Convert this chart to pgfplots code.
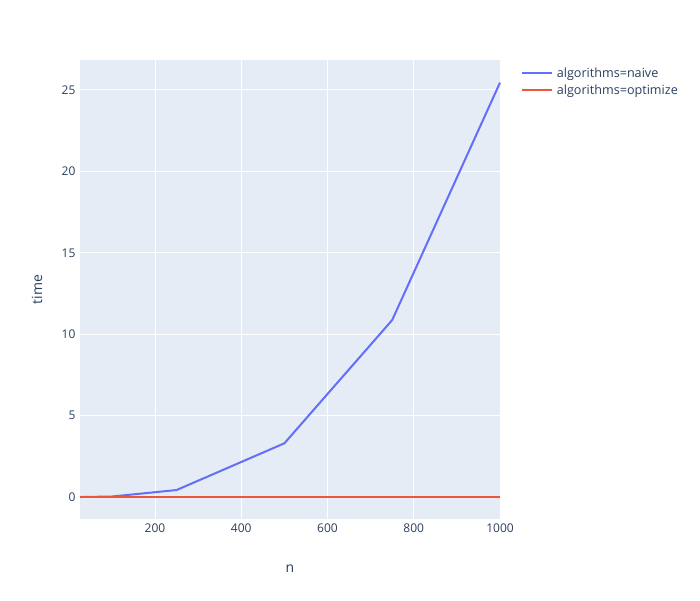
\documentclass[border=0pt]{standalone}
\usepackage{pgfplots}
\pgfplotsset{compat=1.18}
\usepackage{fontspec}
\setmainfont{Open Sans}
\definecolor{bgc}{HTML}{E5ECF6}
\definecolor{txt}{HTML}{2A3F5F}
\definecolor{naive}{HTML}{636EFA}
\definecolor{opt}{HTML}{EF553B}
\begin{document}
\begin{tikzpicture}[x=1pt,y=1pt]
\useasboundingbox (0,0) rectangle (700,600);
\begin{axis}[
  at={(80pt,81pt)}, anchor=south west,
  scale only axis, width=420pt, height=459pt,
  xmin=26, xmax=1000, ymin=-1.35, ymax=26.84,
  axis background/.style={fill=bgc},
  axis line style={draw=none},
  major tick length=0pt,
  grid=major, grid style={white, line width=1pt},
  xtick={200,400,600,800,1000},
  ytick={0,5,10,15,20,25},
  ticklabel style={font=\fontsize{12}{14}\selectfont, text=txt},
  /pgf/number format/assume math mode=true,
  /pgf/number format/1000 sep={},
  xticklabel style={yshift=-1pt},
  yticklabel style={xshift=-1pt},
  xlabel={n}, ylabel={time},
  label style={font=\fontsize{14}{16}\selectfont, text=txt},
  xlabel style={at={(axis description cs:0.5,0)}, anchor=center, yshift=-50pt},
  ylabel style={at={(axis description cs:0,0.5)}, anchor=center, yshift=43pt},
  legend style={at={(1.042,0.992)}, anchor=north west, draw=none, fill=none,
    font=\fontsize{12.6}{14}\selectfont, text=txt, row sep=2pt,
    nodes={inner xsep=4pt}},
  legend image code/.code={\draw[#1, line width=2pt] (0pt,0pt) -- (30pt,0pt);},
  legend cell align=left,
  clip=false,
]
\addplot[naive, line width=2pt, mark=none] coordinates {
(26,0.0) (100,0.03) (250,0.43) (500,3.3) (750,10.87) (1000,25.45)};
\addlegendentry{algorithms=naive}
\addplot[opt, line width=2pt, mark=none] coordinates {
(26,0.0) (100,0.0) (250,0.0) (500,0.0) (750,0.0) (1000,0.0)};
\addlegendentry{algorithms=optimize}
\end{axis}
\end{tikzpicture}
\end{document}
